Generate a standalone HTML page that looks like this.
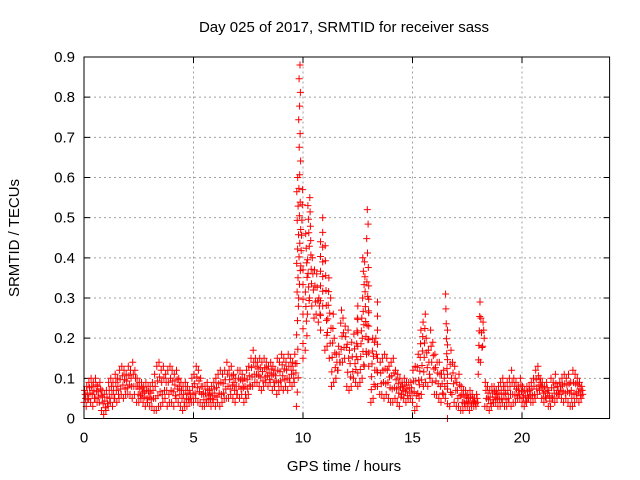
<!DOCTYPE html>
<html><head><meta charset="utf-8"><style>
html,body{margin:0;padding:0;background:#fff;}
svg{display:block;font-family:"Liberation Sans",sans-serif;}
</style></head><body>
<svg id="chart" width="640" height="480" viewBox="0 0 640 480">
<rect width="640" height="480" fill="#fff"/>
<g id="grid"></g>
<g id="axes"></g>
<g id="points"></g>
<rect x="84" y="57" width="525.6" height="361.5" fill="none" stroke="#000" stroke-width="1"/>
<text x="344" y="32" font-size="15" text-anchor="middle">Day 025 of 2017, SRMTID for receiver sass</text>
<text x="344" y="471" font-size="15" text-anchor="middle">GPS time / hours</text>
<text transform="translate(19,238) rotate(-90)" font-size="15" text-anchor="middle">SRMTID / TECUs</text>
</svg>
<script>
const xTicks=[0,5,10,15,20];
const yTicks=[0,0.1,0.2,0.3,0.4,0.5,0.6,0.7,0.8,0.9];
const yTickLabels=["0","0.1","0.2","0.3","0.4","0.5","0.6","0.7","0.8","0.9"];
const binHours=0.1;
const lo=[.04,.03,.05,.04,.03,.05,.04,.04,.02,.01,
.02,.03,.04,.03,.05,.04,.05,.06,.05,.06,
.06,.06,.05,.06,.04,.04,.05,.04,.03,.04,
.03,.03,.02,.02,.03,.03,.04,.05,.03,.04,
.04,.03,.05,.04,.03,.02,.03,.03,.04,.04,
.04,.05,.04,.04,.03,.03,.04,.04,.03,.04,
.03,.04,.03,.04,.05,.05,.05,.06,.05,.04,
.06,.05,.06,.04,.05,.06,.08,.08,.09,.09,
.08,.07,.08,.09,.08,.09,.07,.08,.06,.07,
.08,.07,.08,.07,.09,.08,.09,.03,.30,.38,
.15,.17,.26,.30,.28,.25,.26,.24,.22,.28,
.17,.18,.15,.08,.09,.10,.12,.14,.14,.15,
.08,.07,.08,.10,.09,.08,.09,.10,.13,.16,
.13,.04,.05,.08,.08,.06,.06,.05,.06,.05,
.04,.04,.05,.04,.03,.06,.05,.04,.05,.05,
.04,.02,.03,.05,.06,.08,.09,.08,.10,.09,
.06,.06,.05,.04,.06,.05,.00,.03,.06,.04,
.03,.03,.02,.02,.03,.03,.02,.03,.03,.03,
.11,.14,.18,.03,.03,.02,.03,.04,.04,.03,
.03,.04,.03,.03,.04,.03,.04,.04,.05,.05,
.04,.03,.04,.05,.04,.04,.05,.06,.07,.05,
.04,.05,.03,.03,.05,.04,.05,.06,.05,.04,
.05,.04,.03,.03,.04,.05,.04,.05];
const hi=[.07,.08,.09,.10,.09,.10,.08,.09,.07,.06,
.07,.09,.10,.09,.11,.10,.12,.13,.12,.11,
.13,.12,.14,.12,.10,.09,.09,.08,.09,.08,
.08,.09,.11,.13,.14,.12,.13,.11,.12,.13,
.12,.11,.12,.10,.09,.08,.09,.08,.07,.10,
.11,.13,.12,.10,.08,.08,.09,.07,.08,.09,
.10,.11,.12,.11,.12,.14,.12,.13,.11,.10,
.12,.12,.11,.10,.12,.13,.15,.17,.15,.14,
.15,.14,.15,.14,.13,.14,.13,.12,.15,.14,
.16,.15,.14,.16,.15,.14,.16,.60,.88,.57,
.37,.46,.53,.55,.40,.37,.36,.30,.44,.50,
.43,.35,.30,.26,.20,.16,.18,.27,.25,.23,
.22,.17,.19,.21,.25,.28,.25,.40,.39,.52,
.33,.20,.19,.20,.29,.14,.15,.16,.15,.13,
.14,.15,.12,.11,.10,.09,.10,.09,.09,.09,
.12,.13,.16,.22,.24,.26,.20,.17,.22,.19,
.16,.14,.14,.11,.12,.31,.22,.17,.14,.13,
.09,.11,.08,.07,.07,.06,.07,.06,.05,.06,
.29,.25,.24,.09,.08,.07,.08,.08,.07,.08,
.09,.10,.08,.09,.10,.12,.10,.09,.08,.10,
.08,.07,.08,.08,.09,.10,.12,.13,.10,.09,
.08,.09,.07,.10,.09,.11,.08,.09,.10,.11,
.10,.11,.09,.12,.11,.10,.09,.08];
const X0=84,X1=609.6,XMAX=24,Y0=418.5,Y1=57,YMAX=0.9;
function xs(t){return X0+(X1-X0)*t/XMAX;}
function ys(v){return Y0-(Y0-Y1)*v/YMAX;}
const NS="http://www.w3.org/2000/svg";
const grid=document.getElementById('grid'),axes=document.getElementById('axes'),pts=document.getElementById('points');
function mk(tag,attrs,parent){const e=document.createElementNS(NS,tag);for(const k in attrs)e.setAttribute(k,attrs[k]);parent.appendChild(e);return e;}
xTicks.forEach(t=>{
  const x=xs(t);
  if(t>0){const g=mk('line',{x1:x,x2:x,y1:Y0,y2:Y1,stroke:'#a0a0a0','stroke-dasharray':'2,3'},grid);
  
  }
  const tk=mk('path',{d:`M${x},${Y0}v-6M${x},${Y1}v6`,stroke:'#000'},axes);
  
  
  const l=mk('text',{x:x,y:Y0+24,'font-size':15,'text-anchor':'middle'},axes);l.textContent=String(t);
  
  
});
yTicks.forEach((v,i)=>{
  const y=ys(v);
  if(v>0&&v<YMAX){const g=mk('line',{x1:X0,x2:X1,y1:y,y2:y,stroke:'#a0a0a0','stroke-dasharray':'2,3'},grid);
  
  }
  const tk=mk('path',{d:`M${X0},${y}h6M${X1},${y}h-6`,stroke:'#000'},axes);
  
  
  const l=mk('text',{x:X0-9,y:y+5,'font-size':15,'text-anchor':'end'},axes);l.textContent=yTickLabels[i];
  
  
});
let d='';
lo.forEach((l,i)=>{
  const h=hi[i];const t=i*binHours;
  const n=Math.max(4,Math.round((h-l)/0.035)+1);
  for(let k=0;k<n;k++){
    const v=l+(h-l)*k/(n-1);
    const tt=t+binHours*(((k*7)%n)/n);
    const x=xs(tt),y=ys(v);
    d+=`M${(x-3.5).toFixed(1)},${y.toFixed(1)}h7M${x.toFixed(1)},${(y-3.5).toFixed(1)}v7`;
  }
});
const p=mk('path',{d:d,stroke:'#ff0000','stroke-width':1,fill:'none'},pts);


</script>
</body></html>
